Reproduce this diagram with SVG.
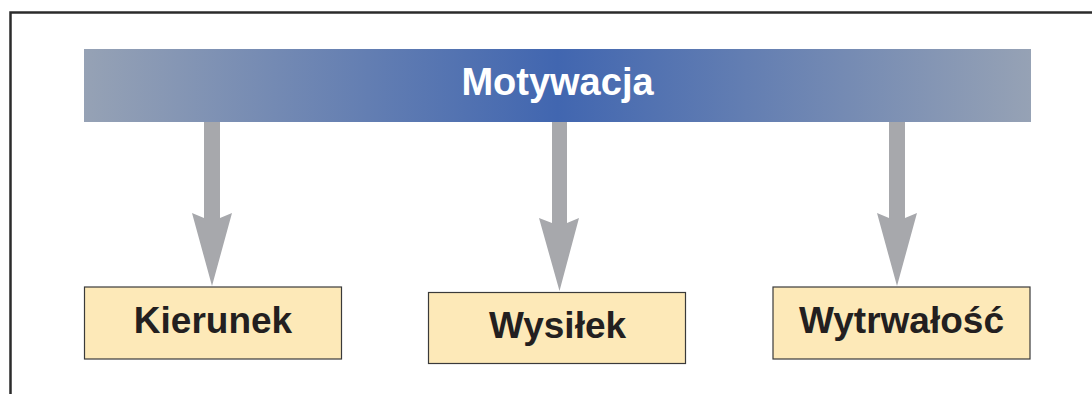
<svg xmlns="http://www.w3.org/2000/svg" width="1092" height="394" viewBox="0 0 1092 394">
  <defs>
    <linearGradient id="band" x1="84" y1="0" x2="1031" y2="0" gradientUnits="userSpaceOnUse">
      <stop offset="0" stop-color="#96a2b5"/>
      <stop offset="0.5" stop-color="#4166b0"/>
      <stop offset="1" stop-color="#96a2b5"/>
    </linearGradient>
    <style>
      .frame { stroke: #2b2b2b; stroke-width: 2.5; fill: none; }
      .box { fill: #fde9b8; stroke: #3a3a3a; stroke-width: 1.2; }
      .lbl { font-family: "Liberation Sans", Arial, sans-serif; font-weight: bold; font-size: 37px; fill: #231f20; text-anchor: middle; }
      .title { font-family: "Liberation Sans", Arial, sans-serif; font-weight: bold; font-size: 38px; fill: #ffffff; text-anchor: middle; }
      .arrow { fill: #a7a8ac; }
    </style>
  </defs>
  <rect width="1092" height="394" fill="#ffffff"/>
  <path class="frame" d="M10.5 394 V12.5 H1092"/>

  <g id="motywacja">
    <rect x="84" y="49" width="947" height="73" fill="url(#band)"/>
    <text class="title" x="557.5" y="95">Motywacja</text>
  </g>

  <g id="connectors">
    <path class="arrow" d="M204 122 H220 V218 L232 213 L212 286 L192 213 L204 218 Z"/>
    <path class="arrow" d="M552 122 H567 V223 L579 218 L559.5 291 L539 218 L552 223 Z"/>
    <path class="arrow" d="M889 122 H905 V218 L917 213 L897 286 L877 213 L889 218 Z"/>
  </g>

  <g id="kierunek">
    <rect class="box" x="84.5" y="287" width="257" height="72"/>
    <text class="lbl" x="213" y="333">Kierunek</text>
  </g>
  <g id="wysilek">
    <rect class="box" x="428.5" y="292.5" width="257" height="71"/>
    <text class="lbl" x="557.5" y="338">Wysiłek</text>
  </g>
  <g id="wytrwalosc">
    <rect class="box" x="773" y="287" width="257" height="72"/>
    <text class="lbl" x="901.5" y="333">Wytrwałość</text>
  </g>
</svg>
